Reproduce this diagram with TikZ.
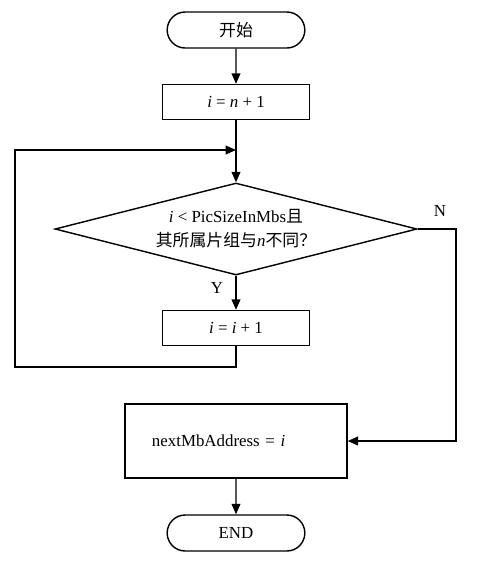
\documentclass[tikz,border=0pt]{standalone}
\usepackage{fontspec}
\setmainfont{Liberation Serif}
\newfontfamily\cjk{Noto Sans CJK SC}
\usetikzlibrary{shapes.geometric,shapes.misc,arrows.meta}
\tikzset{
  term/.style={draw, line width=1pt, rounded rectangle, minimum width=3.675cm, minimum height=0.9cm},
  proc/.style={draw, line width=1pt, rectangle, minimum width=3.675cm, minimum height=0.875cm},
  dec/.style={draw, line width=1pt, diamond, aspect=3.93, inner sep=0pt, minimum width=9.05cm, minimum height=2.3cm, align=center},
  arr/.style={line width=1pt, -{Triangle[length=2.6mm,width=2.2mm]}}
}
\begin{document}
\begin{tikzpicture}[x=0.025cm, y=-0.025cm, font=\fontsize{12}{17}\selectfont]
\useasboundingbox (0,0) rectangle (484,562);
\node[term] (start) at (236,30) {\cjk 开始};
\node[proc] (init) at (236,102) {\textit{i} = \textit{n} + 1};
\node[dec] (cond) at (236,229) {\textit{i} < PicSizeInMbs{\cjk 且}\\{\cjk 其所属片组与}\textit{n}{\cjk 不同？}};
\node[proc] (inc) at (236,328) {\textit{i} = \textit{i} + 1};
\node[proc, minimum width=5.55cm, minimum height=1.85cm, text width=4.2cm, inner xsep=0.675cm, align=left] (out) at (236,441) {nextMbAddress = \textit{i}};
\node[term] (stop) at (236,533) {END};
\node (y) at (217,288) {Y};
\node (n) at (440,211) {N};
\coordinate (merge) at (236,150);
\coordinate (lp) at (15,367);
\coordinate (nr) at (456,229);
\draw[arr] (start) -- (init);
\draw[arr] (init) -- (cond);
\draw[arr] (cond) -- (inc);
\draw[arr] (inc.south) |- (lp) |- (merge);
\draw[arr] (cond.east) -- (nr) |- (out.east);
\draw[arr] (out) -- (stop);
\end{tikzpicture}
\end{document}
